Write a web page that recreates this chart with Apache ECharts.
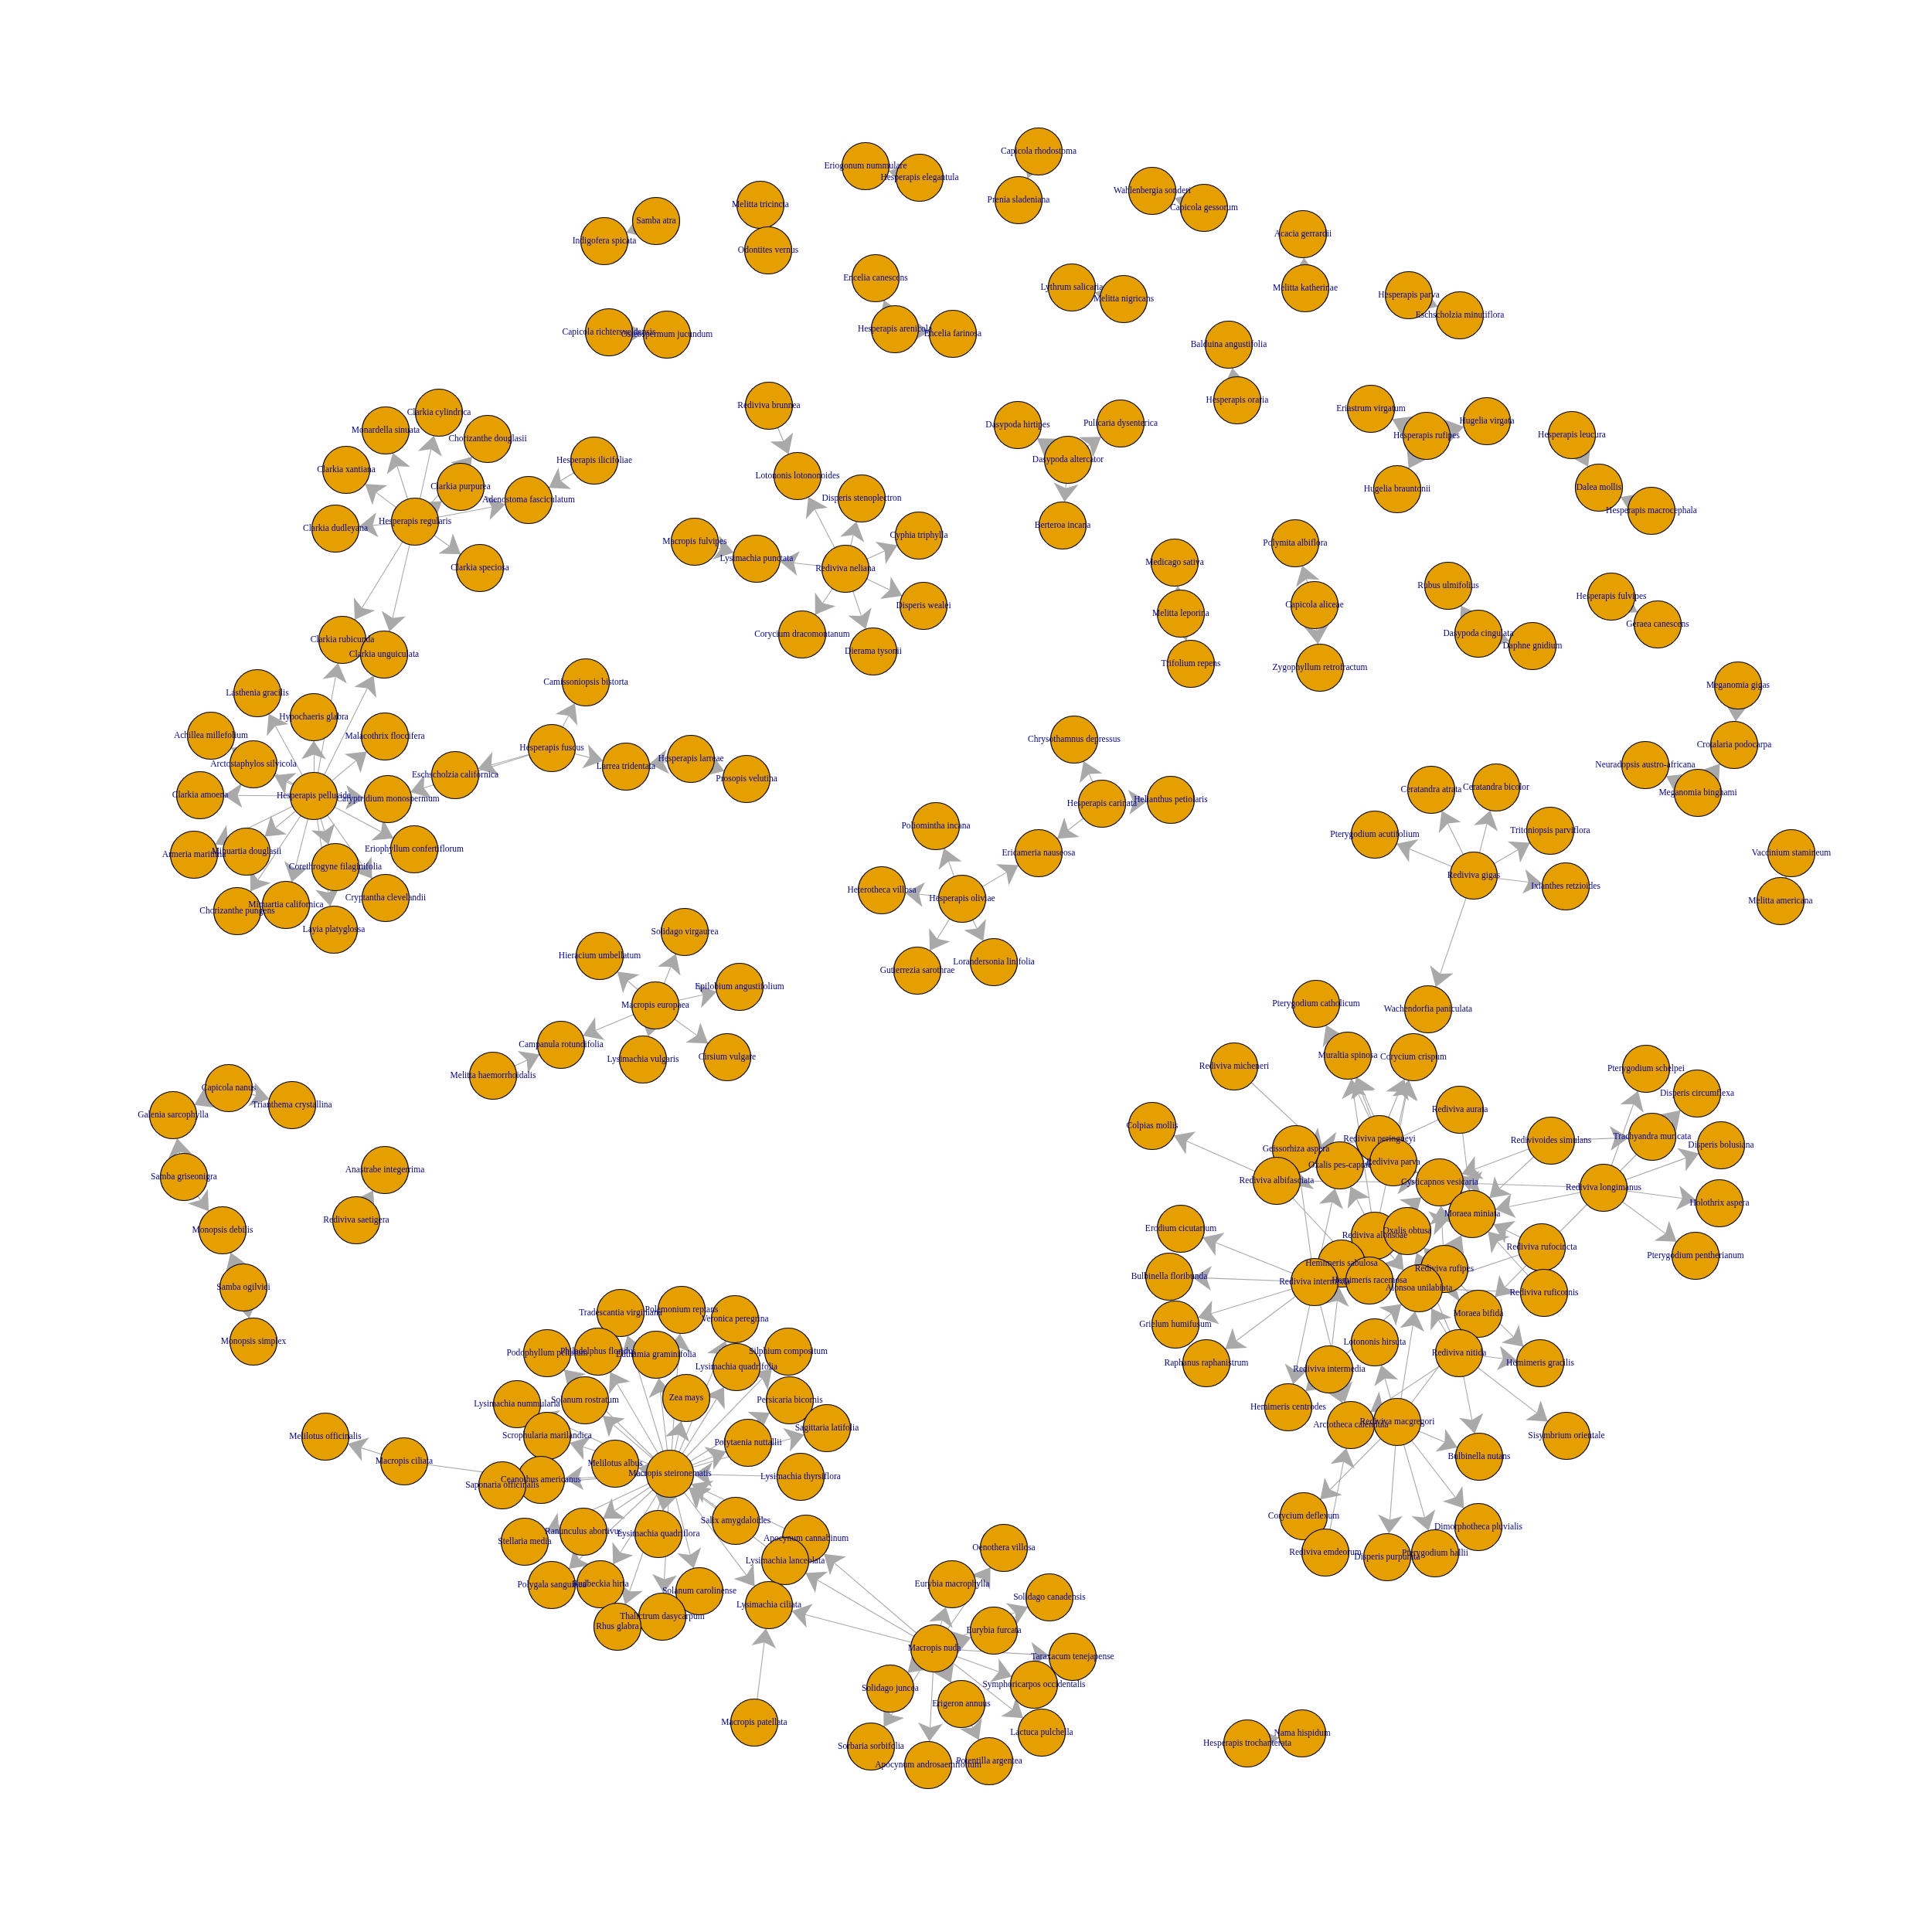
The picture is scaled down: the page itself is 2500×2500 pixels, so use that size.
<!DOCTYPE html>
<html style="height: 100%">
<head>
    <meta charset="utf-8">
    <script src="https://cdn.jsdelivr.net/npm/echarts@6/dist/echarts.min.js"></script>
</head>
<body style="margin: 0; background: #ffffff">
    <div id="main" style="width: 2500px; height: 2500px"></div>
    <script type="text/javascript">
        // node name, x, y (picture pixels, y downward)
        var nodes = [
            ['Hesperapis regularis', 537, 675], ['Clarkia cylindrica', 568, 534], ['Monardella sinuata', 499, 557],
            ['Chorizanthe douglasii', 631, 568], ['Clarkia xantiana', 448, 608], ['Clarkia purpurea', 596, 630],
            ['Adenostoma fasciculatum', 684, 647], ['Hesperapis ilicifoliae', 769, 596], ['Clarkia dudleyana', 434, 684],
            ['Clarkia speciosa', 621, 735],
            ['Clarkia rubicunda', 443, 828], ['Clarkia unguiculata', 497, 847], ['Lasthenia gracilis', 333, 897],
            ['Hypochaeris glabra', 406, 928], ['Achillea millefolium', 273, 952], ['Malacothrix floccifera', 498, 953],
            ['Arctostaphylos silvicola', 328, 989], ['Eschscholzia californica', 589, 1003], ['Clarkia amoena', 259, 1029],
            ['Hesperapis pellucida', 406, 1030], ['Calyptridium monospermum', 502, 1034], ['Armeria maritima', 251, 1106],
            ['Minuartia douglasii', 319, 1102], ['Eriophyllum confertiflorum', 536, 1099], ['Corethrogyne filaginifolia', 434, 1122],
            ['Cryptantha clevelandii', 499, 1162], ['Chorizanthe pungens', 307, 1179], ['Minuartia californica', 370, 1171],
            ['Layia platyglossa', 432, 1203],
            ['Camissoniopsis bistorta', 758, 883], ['Hesperapis fuscus', 714, 968], ['Larrea tridentata', 810, 992],
            ['Hesperapis larreae', 894, 982], ['Prosopis velutina', 966, 1008],
            ['Samba atra', 849, 286], ['Indigofera spicata', 782, 312], ['Melitta tricincta', 984, 265],
            ['Odontites vernus', 994, 324], ['Capicola richtersveldensis', 788, 430], ['Osteospermum jucundum', 863, 433],
            ['Eriogonum nummulare', 1120, 215], ['Hesperapis elegantula', 1190, 230], ['Capicola rhodostoma', 1344, 196],
            ['Prenia sladeniana', 1318, 259], ['Encelia canescens', 1133, 360], ['Hesperapis arenicola', 1158, 426],
            ['Encelia farinosa', 1233, 432], ['Wahlenbergia sonderi', 1491, 247], ['Capicola gessorum', 1558, 269],
            ['Acacia gerrardii', 1686, 303], ['Melitta katherinae', 1689, 373], ['Lythrum salicaria', 1387, 372],
            ['Melitta nigricans', 1454, 387], ['Hesperapis parva', 1823, 382], ['Eschscholzia minutiflora', 1889, 408],
            ['Balduina angustifolia', 1590, 446], ['Hesperapis oraria', 1601, 518], ['Eriastrum virgatum', 1774, 529],
            ['Hesperapis rufipes', 1846, 564], ['Hugelia virgata', 1924, 545], ['Hugelia brauntonii', 1808, 633],
            ['Dasypoda hirtipes', 1317, 550], ['Pulicaria dysenterica', 1450, 548], ['Dasypoda altercator', 1382, 595],
            ['Berteroa incana', 1375, 680], ['Hesperapis leucura', 2034, 563], ['Dalea mollis', 2069, 631],
            ['Hesperapis macrocephala', 2137, 661], ['Polymita albiflora', 1676, 703], ['Capicola aliceae', 1701, 783],
            ['Zygophyllum retrofractum', 1708, 864], ['Medicago sativa', 1520, 728], ['Melitta leporina', 1528, 794],
            ['Trifolium repens', 1541, 859], ['Rubus ulmifolius', 1874, 758], ['Dasypoda cingulata', 1913, 820],
            ['Daphne gnidium', 1983, 836], ['Hesperapis fulvipes', 2085, 772], ['Geraea canescens', 2145, 808],
            ['Meganomia gigas', 2249, 887], ['Crotalaria podocarpa', 2244, 964], ['Neuradopsis austro-africana', 2129, 990],
            ['Meganomia binghami', 2197, 1026], ['Vaccinium stamineum', 2318, 1104], ['Melitta americana', 2304, 1166],
            ['Rediviva brunnea', 995, 525], ['Lotononis lotononoides', 1032, 616], ['Disperis stenoplectron', 1115, 645],
            ['Cyphia triphylla', 1189, 693], ['Macropis fulvipes', 899, 701], ['Lysimachia punctata', 979, 723],
            ['Rediviva neliana', 1094, 736], ['Disperis wealei', 1195, 784], ['Corycium dracomontanum', 1038, 821],
            ['Dierama tysonii', 1130, 843],
            ['Chrysothamnus depressus', 1390, 957], ['Hesperapis carinata', 1426, 1040], ['Helianthus petiolaris', 1515, 1035],
            ['Poliomintha incana', 1211, 1069], ['Ericameria nauseosa', 1344, 1104], ['Heterotheca villosa', 1141, 1152],
            ['Hesperapis oliviae', 1245, 1163], ['Gutierrezia sarothrae', 1187, 1256], ['Lorandersonia linifolia', 1286, 1245],
            ['Hieracium umbellatum', 776, 1237], ['Solidago virgaurea', 886, 1206], ['Epilobium angustifolium', 957, 1277],
            ['Macropis europaea', 848, 1301], ['Campanula rotundifolia', 726, 1352], ['Lysimachia vulgaris', 832, 1371],
            ['Cirsium vulgare', 941, 1368], ['Melitta haemorrhoidalis', 638, 1392],
            ['Capicola nanus', 296, 1408], ['Trianthema crystallina', 378, 1430], ['Galenia sarcophylla', 224, 1443],
            ['Samba griseonigra', 238, 1523], ['Monopsis debilis', 288, 1592], ['Samba ogilviei', 315, 1666],
            ['Monopsis simplex', 328, 1736], ['Anastrabe integerrima', 498, 1514], ['Rediviva saetigera', 461, 1579],
            ['Melilotus officinalis', 421, 1859], ['Macropis ciliata', 523, 1891],
            ['Tradescantia virginiana', 803, 1699], ['Polemonium reptans', 882, 1695], ['Veronica peregrina', 951, 1707],
            ['Podophyllum peltatum', 708, 1751], ['Philadelphus floridus', 774, 1749], ['Euthamia graminifolia', 849, 1753],
            ['Silphium compositum', 1020, 1749], ['Lysimachia quadrifolia', 953, 1769], ['Lysimachia nummularia', 669, 1817],
            ['Solanum rostratum', 757, 1812], ['Zea mays', 888, 1809], ['Persicaria bicornis', 1022, 1812],
            ['Sagittaria latifolia', 1070, 1848], ['Scrophularia marilandica', 708, 1858], ['Polytaenia nuttallii', 968, 1867],
            ['Melilotus albus', 796, 1894], ['Macropis steironematis', 867, 1907], ['Ceanothus americanus', 700, 1915],
            ['Saponaria officinalis', 650, 1922], ['Lysimachia thyrsiflora', 1036, 1911], ['Salix amygdaloides', 952, 1968],
            ['Ranunculus abortivus', 755, 1982], ['Stellaria media', 679, 1995], ['Lysimachia quadriflora', 852, 1985],
            ['Apocynum cannabinum', 1043, 1991], ['Lysimachia lanceolata', 1016, 2020], ['Polygala sanguinea', 714, 2051],
            ['Rudbeckia hirta', 777, 2050], ['Solanum carolinense', 905, 2059], ['Lysimachia ciliata', 995, 2077],
            ['Thalictrum dasycarpum', 857, 2092], ['Rhus glabra', 799, 2105], ['Macropis patellata', 976, 2229],
            ['Oenothera villosa', 1299, 2003], ['Eurybia macrophylla', 1232, 2050], ['Solidago canadensis', 1358, 2067],
            ['Eurybia furcata', 1286, 2110], ['Macropis nuda', 1209, 2133], ['Taraxacum tenejapense', 1388, 2144],
            ['Solidago juncea', 1152, 2185], ['Symphoricarpos occidentalis', 1338, 2180], ['Erigeron annuus', 1244, 2205],
            ['Lactuca pulchella', 1348, 2242], ['Sorbaria sorbifolia', 1127, 2260], ['Apocynum androsaemifolium', 1201, 2284],
            ['Potentilla argentea', 1280, 2279],
            ['Hesperapis trochanterata', 1614, 2256], ['Nama hispidum', 1685, 2243],
            ['Ceratandra atrata', 1852, 1022], ['Ceratandra bicolor', 1936, 1019], ['Pterygodium acutifolium', 1779, 1080],
            ['Tritoniopsis parviflora', 2006, 1075], ['Rediviva gigas', 1907, 1133], ['Ixianthes retzioides', 2026, 1147],
            ['Pterygodium catholicum', 1703, 1299], ['Wachendorfia paniculata', 1848, 1306], ['Muraltia spinosa', 1744, 1366],
            ['Corycium crispum', 1829, 1368], ['Rediviva micheneri', 1597, 1380], ['Rediviva aurata', 1889, 1436],
            ['Colpias mollis', 1491, 1457], ['Rediviva peringueyi', 1785, 1474], ['Geissorhiza aspera', 1677, 1487],
            ['Oxalis pes-caprae', 1734, 1508], ['Rediviva parva', 1803, 1504], ['Rediviva albifasciata', 1652, 1528],
            ['Cysticapnos vesicaria', 1863, 1530], ['Moraea miniata', 1905, 1571], ['Erodium cicutarium', 1528, 1590],
            ['Rediviva alonsoae', 1779, 1599], ['Oxalis obtusa', 1821, 1593], ['Hemimeris sabulosa', 1736, 1635],
            ['Bulbinella floribunda', 1513, 1652], ['Rediviva intermixta', 1701, 1659], ['Hemimeris racemosa', 1772, 1657],
            ['Rediviva rufipes', 1869, 1642], ['Alonsoa unilabiata', 1836, 1667], ['Moraea bifida', 1913, 1700],
            ['Grielum humifusum', 1521, 1714], ['Lotononis hirsuta', 1779, 1737], ['Pterygodium schelpei', 2130, 1383],
            ['Disperis circumflexa', 2196, 1415], ['Redivivoides simulans', 2007, 1476], ['Trachyandra muricata', 2138, 1471],
            ['Disperis bolusiana', 2227, 1482], ['Rediviva longimanus', 2075, 1537], ['Holothrix aspera', 2225, 1557],
            ['Rediviva rufocincta', 1995, 1614], ['Pterygodium pentherianum', 2194, 1625], ['Rediviva ruficornis', 1998, 1673],
            ['Raphanus raphanistrum', 1561, 1764], ['Rediviva nitida', 1888, 1751], ['Rediviva intermedia', 1720, 1772],
            ['Hemimeris centrodes', 1667, 1821], ['Arctotheca calendula', 1748, 1844], ['Rediviva macgregori', 1808, 1840],
            ['Bulbinella nutans', 1914, 1885], ['Corycium deflexum', 1687, 1962], ['Dimorphotheca pluvialis', 1913, 1976],
            ['Rediviva emdeorum', 1715, 2009], ['Disperis purpurata', 1795, 2015], ['Pterygodium hallii', 1857, 2010],
            ['Hemimeris gracilis', 1993, 1764], ['Sisymbrium orientale', 2027, 1858]
        ];

        // hub -> list of targets
        var fans = [
            ['Hesperapis regularis', ['Monardella sinuata', 'Clarkia cylindrica', 'Clarkia xantiana', 'Clarkia dudleyana',
                'Clarkia speciosa', 'Clarkia purpurea', 'Chorizanthe douglasii', 'Adenostoma fasciculatum',
                'Clarkia rubicunda', 'Clarkia unguiculata']],
            ['Hesperapis ilicifoliae', ['Adenostoma fasciculatum']],
            ['Hesperapis pellucida', ['Clarkia rubicunda', 'Clarkia unguiculata', 'Lasthenia gracilis', 'Hypochaeris glabra',
                'Malacothrix floccifera', 'Arctostaphylos silvicola', 'Achillea millefolium', 'Clarkia amoena',
                'Calyptridium monospermum', 'Eriophyllum confertiflorum', 'Armeria maritima', 'Minuartia douglasii',
                'Chorizanthe pungens', 'Minuartia californica', 'Corethrogyne filaginifolia', 'Layia platyglossa',
                'Cryptantha clevelandii']],
            ['Hesperapis fuscus', ['Camissoniopsis bistorta', 'Eschscholzia californica', 'Larrea tridentata', 'Calyptridium monospermum']],
            ['Hesperapis larreae', ['Larrea tridentata', 'Prosopis velutina']],
            ['Samba atra', ['Indigofera spicata']],
            ['Melitta tricincta', ['Odontites vernus']],
            ['Capicola richtersveldensis', ['Osteospermum jucundum']],
            ['Hesperapis elegantula', ['Eriogonum nummulare']],
            ['Capicola rhodostoma', ['Prenia sladeniana']],
            ['Hesperapis arenicola', ['Encelia canescens', 'Encelia farinosa']],
            ['Capicola gessorum', ['Wahlenbergia sonderi']],
            ['Melitta katherinae', ['Acacia gerrardii']],
            ['Melitta nigricans', ['Lythrum salicaria']],
            ['Hesperapis parva', ['Eschscholzia minutiflora']],
            ['Hesperapis oraria', ['Balduina angustifolia']],
            ['Hesperapis rufipes', ['Eriastrum virgatum', 'Hugelia virgata', 'Hugelia brauntonii']],
            ['Dasypoda altercator', ['Dasypoda hirtipes', 'Pulicaria dysenterica', 'Berteroa incana']],
            ['Hesperapis leucura', ['Dalea mollis']],
            ['Hesperapis macrocephala', ['Dalea mollis']],
            ['Capicola aliceae', ['Polymita albiflora', 'Zygophyllum retrofractum']],
            ['Melitta leporina', ['Medicago sativa', 'Trifolium repens']],
            ['Dasypoda cingulata', ['Rubus ulmifolius', 'Daphne gnidium']],
            ['Hesperapis fulvipes', ['Geraea canescens']],
            ['Meganomia gigas', ['Crotalaria podocarpa']],
            ['Meganomia binghami', ['Crotalaria podocarpa', 'Neuradopsis austro-africana']],
            ['Melitta americana', ['Vaccinium stamineum']],
            ['Hesperapis trochanterata', ['Nama hispidum']],
            ['Rediviva brunnea', ['Lotononis lotononoides']],
            ['Rediviva neliana', ['Lotononis lotononoides', 'Disperis stenoplectron', 'Cyphia triphylla', 'Disperis wealei',
                'Dierama tysonii', 'Corycium dracomontanum', 'Lysimachia punctata']],
            ['Macropis fulvipes', ['Lysimachia punctata']],
            ['Hesperapis carinata', ['Chrysothamnus depressus', 'Helianthus petiolaris', 'Ericameria nauseosa']],
            ['Hesperapis oliviae', ['Ericameria nauseosa', 'Poliomintha incana', 'Heterotheca villosa',
                'Gutierrezia sarothrae', 'Lorandersonia linifolia']],
            ['Macropis europaea', ['Hieracium umbellatum', 'Solidago virgaurea', 'Epilobium angustifolium',
                'Campanula rotundifolia', 'Lysimachia vulgaris', 'Cirsium vulgare']],
            ['Melitta haemorrhoidalis', ['Campanula rotundifolia']],
            ['Capicola nanus', ['Galenia sarcophylla', 'Trianthema crystallina']],
            ['Samba griseonigra', ['Galenia sarcophylla', 'Monopsis debilis']],
            ['Samba ogilviei', ['Monopsis debilis', 'Monopsis simplex']],
            ['Rediviva saetigera', ['Anastrabe integerrima']],
            ['Macropis ciliata', ['Melilotus officinalis', 'Ceanothus americanus']],
            ['Macropis steironematis', ['Tradescantia virginiana', 'Polemonium reptans', 'Veronica peregrina',
                'Podophyllum peltatum', 'Philadelphus floridus', 'Euthamia graminifolia', 'Silphium compositum',
                'Lysimachia quadrifolia', 'Lysimachia nummularia', 'Solanum rostratum', 'Zea mays', 'Persicaria bicornis',
                'Sagittaria latifolia', 'Scrophularia marilandica', 'Polytaenia nuttallii', 'Melilotus albus',
                'Ceanothus americanus', 'Saponaria officinalis', 'Ranunculus abortivus', 'Stellaria media',
                'Lysimachia quadriflora', 'Polygala sanguinea', 'Rudbeckia hirta', 'Solanum carolinense',
                'Lysimachia ciliata', 'Thalictrum dasycarpum', 'Rhus glabra']],
            ['Lysimachia thyrsiflora', ['Macropis steironematis']],
            ['Salix amygdaloides', ['Macropis steironematis']],
            ['Apocynum cannabinum', ['Macropis steironematis']],
            ['Lysimachia lanceolata', ['Macropis steironematis']],
            ['Macropis nuda', ['Eurybia macrophylla', 'Oenothera villosa', 'Eurybia furcata', 'Solidago canadensis',
                'Taraxacum tenejapense', 'Symphoricarpos occidentalis', 'Lactuca pulchella', 'Erigeron annuus',
                'Potentilla argentea', 'Apocynum androsaemifolium', 'Solidago juncea', 'Sorbaria sorbifolia',
                'Apocynum cannabinum', 'Lysimachia lanceolata', 'Lysimachia ciliata']],
            ['Macropis patellata', ['Lysimachia ciliata']],
            ['Rediviva gigas', ['Ceratandra atrata', 'Ceratandra bicolor', 'Pterygodium acutifolium',
                'Tritoniopsis parviflora', 'Ixianthes retzioides', 'Wachendorfia paniculata']],
            ['Rediviva micheneri', ['Oxalis pes-caprae']],
            ['Rediviva albifasciata', ['Colpias mollis', 'Cysticapnos vesicaria', 'Geissorhiza aspera', 'Hemimeris racemosa']],
            ['Rediviva peringueyi', ['Muraltia spinosa', 'Corycium crispum', 'Pterygodium catholicum', 'Geissorhiza aspera']],
            ['Rediviva parva', ['Corycium crispum', 'Muraltia spinosa', 'Cysticapnos vesicaria', 'Oxalis pes-caprae']],
            ['Rediviva aurata', ['Oxalis pes-caprae', 'Moraea miniata']],
            ['Rediviva alonsoae', ['Muraltia spinosa', 'Corycium crispum', 'Oxalis pes-caprae', 'Cysticapnos vesicaria',
                'Moraea miniata', 'Alonsoa unilabiata', 'Hemimeris racemosa']],
            ['Rediviva intermixta', ['Erodium cicutarium', 'Bulbinella floribunda', 'Grielum humifusum',
                'Raphanus raphanistrum', 'Oxalis pes-caprae', 'Hemimeris centrodes', 'Geissorhiza aspera',
                'Arctotheca calendula', 'Hemimeris sabulosa']],
            ['Rediviva rufipes', ['Moraea miniata', 'Cysticapnos vesicaria', 'Alonsoa unilabiata', 'Oxalis obtusa',
                'Hemimeris gracilis']],
            ['Rediviva longimanus', ['Pterygodium schelpei', 'Disperis circumflexa', 'Disperis bolusiana',
                'Holothrix aspera', 'Pterygodium pentherianum', 'Moraea miniata', 'Cysticapnos vesicaria', 'Moraea bifida']],
            ['Redivivoides simulans', ['Trachyandra muricata', 'Cysticapnos vesicaria', 'Moraea miniata']],
            ['Rediviva rufocincta', ['Moraea miniata', 'Alonsoa unilabiata']],
            ['Rediviva ruficornis', ['Moraea miniata', 'Alonsoa unilabiata']],
            ['Rediviva nitida', ['Hemimeris gracilis', 'Sisymbrium orientale', 'Bulbinella nutans', 'Alonsoa unilabiata',
                'Arctotheca calendula', 'Oxalis obtusa']],
            ['Rediviva macgregori', ['Bulbinella nutans', 'Dimorphotheca pluvialis', 'Pterygodium hallii',
                'Disperis purpurata', 'Corycium deflexum', 'Lotononis hirsuta', 'Arctotheca calendula',
                'Alonsoa unilabiata', 'Moraea bifida']],
            ['Rediviva emdeorum', ['Arctotheca calendula']],
            ['Rediviva intermedia', ['Hemimeris centrodes', 'Arctotheca calendula', 'Hemimeris sabulosa', 'Alonsoa unilabiata']]
        ];

        var links = [];
        fans.forEach(function (f) {
            f[1].forEach(function (t) {
                links.push({ source: f[0], target: t });
            });
        });

        var myChart = echarts.init(document.getElementById('main'));

        var option = {
            backgroundColor: '#ffffff',
            animation: false,
            grid: { left: 0, right: 0, top: 0, bottom: 0 },
            xAxis: { type: 'value', min: 0, max: 2500, show: false },
            yAxis: { type: 'value', min: 0, max: 2500, inverse: true, show: false },
            series: [{
                type: 'graph',
                coordinateSystem: 'cartesian2d',
                symbol: 'circle',
                symbolSize: 61,
                edgeSymbol: ['none', 'arrow'],
                edgeSymbolSize: [0, 24],
                itemStyle: {
                    color: '#E69F00',
                    borderColor: '#000000',
                    borderWidth: 1.2
                },
                label: {
                    show: true,
                    position: 'inside',
                    color: '#00009C',
                    fontFamily: 'Liberation Serif',
                    fontSize: 11.5
                },
                lineStyle: {
                    color: '#A9A9A9',
                    width: 1.1,
                    opacity: 1,
                    curveness: 0
                },
                data: nodes.map(function (n) {
                    return { name: n[0], value: [n[1], n[2]] };
                }),
                links: links
            }]
        };

        myChart.setOption(option);
    </script>
</body>
</html>
